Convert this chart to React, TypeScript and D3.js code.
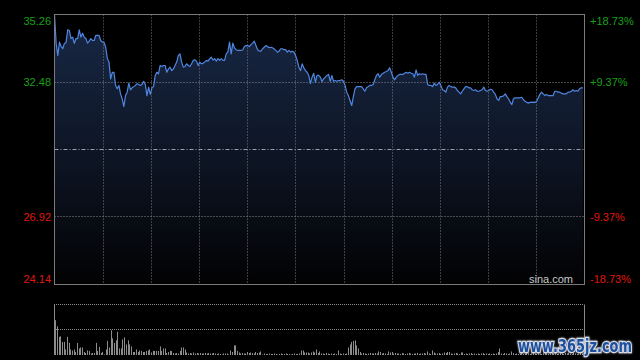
import React from 'react';
import * as d3 from 'd3';

// Reference prices / axis labels
const prevClose = 29.7;
const priceTicks = [35.26, 32.48, 29.7, 26.92, 24.14];
const priceLabels = ['35.26', '32.48', '', '26.92', '24.14'];
const pctLabels = ['+18.73%', '+9.37%', '', '-9.37%', '-18.73%'];
const timeSlots = 322;
const timeDivisions = 11;

// Intraday prices (minute samples)
const pricesOpen = [
  35.26, 34.07, 33.57, 34.12, 33.94, 33.86, 34.07, 34.11, 34.63, 34.6,
  34.27, 34.33, 34.07, 34.27, 34.27, 34.63, 34.33, 34.49, 34.33, 34.27,
  34.08, 34.16, 34.27, 34.19, 34.19, 34.4, 34.4, 34.4, 34.19, 34.12,
  34.12, 33.91, 33.45, 33.3, 32.61, 32.88, 32.88, 32.34, 32.2, 32.34,
  31.99, 31.79, 31.47, 31.92, 32.06, 32.43, 32.16, 32.24, 32.29, 32.34,
  32.41, 32.38, 32.34, 32.38, 32.51, 32.38, 31.92, 32.27, 31.97, 32.24,
  32.29, 32.75, 32.88, 32.82,
];
const pricesMorning = [
  33.16, 33.12, 33.16, 33.16, 32.88, 33.02, 33.09, 32.95, 33.02, 33.16,
  33.3, 33.57, 33.64, 33.3, 33.09, 33.12, 33.23, 33.16, 33.12, 33.23,
  33.37, 33.39, 33.34, 33.16, 33.3, 33.23, 33.25, 33.3, 33.37, 33.34,
  33.44, 33.5, 33.39, 33.44, 33.34, 33.44, 33.37, 33.44, 33.37, 33.37,
  33.64, 33.71, 34.12, 33.64, 34.08, 33.89, 33.81, 33.78, 33.78, 33.78,
  33.81, 33.94, 33.98, 33.98, 33.94, 34.02, 34.08, 34.16, 33.98, 33.81,
  33.75, 33.75, 33.85, 33.91, 33.98, 33.94,
];
const pricesMidday = [
  33.89, 33.91, 33.89, 33.85, 33.78, 33.71, 33.75, 33.85, 33.85, 33.81,
  33.81, 33.71, 33.78, 33.71, 33.75, 33.71, 33.57, 33.37, 33.09, 32.95,
  33.23, 33.07, 32.95, 32.88, 32.75, 32.41, 32.68, 32.84, 32.47, 32.75,
  32.75, 32.68, 32.5, 32.61, 32.68, 32.75, 32.79, 32.51, 32.74, 32.51,
  32.54, 32.51, 32.54, 32.54, 32.57, 32.51, 32.34, 32.06, 31.92, 31.72,
  31.51, 31.88, 32.2, 32.29, 32.29, 32.29, 32.29, 32.2, 32.1, 32.24,
  32.29, 32.34, 32.34, 32.38, 32.57,
];
const pricesAfternoon = [
  32.75, 32.82, 32.68, 32.79, 32.84, 32.88, 32.91, 32.95, 33.07, 32.88,
  32.68, 32.57, 32.68, 32.75, 32.79, 32.79, 32.79, 32.84, 32.88, 32.84,
  32.88, 32.84, 32.82, 32.68, 32.98, 32.75, 32.82, 32.79, 32.82, 32.79,
  32.79, 32.38, 32.34, 32.34, 32.29, 32.43, 32.34, 32.38, 32.47, 32.34,
  32.16, 32.13, 32.06, 32.27, 32.34, 32.29, 32.27, 32.27, 32.24, 32.13,
  32.06, 31.99, 32.1, 32.2, 32.29, 32.29, 32.24, 32.24, 32.16, 32.13,
  32.16, 32.1, 32.1, 32.13,
];
const pricesClose = [
  32.16, 32.27, 32.13, 32.1, 32.13, 32.18, 32.16, 32.06, 31.97, 31.79,
  31.72, 31.88, 31.88, 31.91, 31.99, 31.88, 31.79, 31.65, 31.55, 31.79,
  31.83, 31.83, 31.83, 31.83, 31.85, 31.75, 31.69, 31.65, 31.61, 31.65,
  31.64, 31.65, 31.64, 31.69, 31.83, 31.97, 32.06, 31.99, 31.92, 31.97,
  31.92, 31.92, 31.92, 31.92, 32.1, 32.1, 32.06, 32.06, 32.02, 31.99,
  31.99, 31.99, 32.06, 32.06, 32.1, 32.16, 32.1, 32.13, 32.1, 32.2,
  32.24, 32.24,
];

// Volumes (relative units)
const volumesOpen = [
  100, 69, 57, 36, 37, 26, 26, 11, 36, 24,
  11, 9, 11, 6, 24, 13, 15, 15, 6, 4,
  9, 8, 3, 4, 4, 24, 8, 16, 4, 6,
  1, 11, 28, 15, 49, 33, 24, 29, 46, 13,
  13, 31, 35, 21, 29, 21, 17, 6, 6, 11,
  6, 9, 8, 6, 6, 8, 9, 11, 5, 8,
  8, 8, 8, 17, 8, 13, 13, 4, 6, 8,
  8, 4, 3, 4, 3, 8, 15, 15, 11, 5,
  3, 4, 3, 5, 3, 4, 3, 4, 3, 3,
  4, 3, 4, 3, 3, 4, 3, 2, 3, 2,
  1, 3, 3, 3, 1, 9, 6, 19, 19, 8,
  5, 3, 4, 3, 3, 6, 4, 5, 4, 3,
  6, 4, 5, 7, 1, 3, 2,
];
const volumesMidday = [
  2, 3, 2, 2, 3, 2, 1, 2, 3, 2, 2, 3, 2, 2, 1, 2, 3, 2, 2, 3,
  9, 9, 5, 5, 5, 3, 5, 7, 5, 11, 4, 7, 3,
];
const volumesAfternoon = [
  3, 2, 4, 3, 2, 3, 2, 3, 2, 9, 3, 2, 3, 2, 3,
  15, 21, 26, 28, 29, 19, 13, 6,
  3, 4, 3, 2, 3, 4, 3, 3, 4, 3, 7, 6, 3, 4, 3, 2, 7, 5, 6,
  3, 4, 3, 3, 2, 4, 3, 2, 3, 4, 3, 2, 3, 3, 4, 2, 3, 3, 4, 3,
  7, 3, 2, 9, 5, 3, 3, 4, 2, 3, 5, 4, 6, 6, 3, 2, 3, 4, 3, 2, 5, 5,
];
const volumesClose = [
  2, 3, 2, 3, 4, 2, 3, 2, 3, 2, 3, 4, 2, 3, 2, 3, 2, 3, 2, 3,
  6, 13, 3, 2, 4, 3, 2, 3, 7, 4,
  2, 3, 2, 3, 4, 2, 3, 4, 3, 2, 3, 5, 3, 2, 4, 3, 2, 3, 4, 3,
  2, 3, 5, 3, 4, 2, 3, 4, 3, 2, 4, 3, 5, 3, 2, 4, 3, 2, 3, 4, 3,
];

const FONT = '"Liberation Sans", Arial, Helvetica, sans-serif';
const GREEN = '#18a018';
const RED = '#e0160c';

export default function App() {
  const prices = [...pricesOpen, ...pricesMorning, ...pricesMidday, ...pricesAfternoon, ...pricesClose];
  const volumes = [...volumesOpen, ...volumesMidday, ...volumesAfternoon, ...volumesClose];

  const left = 54.5, right = 584.5, top = 14.5, bottom = 284.5;
  const vTop = 304.5, vBottom = 355;

  const x = d3.scaleLinear().domain([0, timeSlots - 1]).range([left, right]);
  const y = d3.scaleLinear().domain([priceTicks[4], priceTicks[0]]).range([bottom, top]);
  const gx = d3.scaleLinear().domain([0, timeDivisions]).range([left, right]);

  const line = d3.line<number>().x((_, i) => x(i)).y(d => y(d)).curve(d3.curveLinear);
  const area = d3.area<number>().x((_, i) => x(i)).y0(bottom).y1(d => y(d));

  const vMax = d3.max(volumes) as number;
  const yv = d3.scaleLinear().domain([0, vMax]).range([vBottom, vTop]);
  const xv = d3.scaleLinear().domain([0, volumes.length]).range([54, 584]);

  const snap = (v: number) => Math.floor(v) + 0.5;
  const vLines = d3.range(1, timeDivisions).map(k => Math.round(gx(k)) + 0.5);

  return (
    <svg width={640} height={360} style={{ position: 'fixed', left: 0, top: 0, background: '#000' }}>
      <defs>
        <linearGradient id="fillGrad" gradientUnits="userSpaceOnUse" x1="0" y1={top} x2="0" y2={bottom}>
          <stop offset="0" stopColor="#182846" />
          <stop offset="0.5" stopColor="#0e1626" />
          <stop offset="1" stopColor="#020203" />
        </linearGradient>
        <filter id="wmShadow" x="-10%" y="-30%" width="120%" height="160%">
          <feGaussianBlur in="SourceAlpha" stdDeviation="1.2" result="b" />
          <feFlood floodColor="#ffffff" floodOpacity="0.6" />
          <feComposite in2="b" operator="in" result="s" />
          <feMerge>
            <feMergeNode in="s" />
            <feMergeNode in="SourceGraphic" />
          </feMerge>
        </filter>
      </defs>
      <rect x={0} y={0} width={640} height={360} fill="#000" />

      {/* price area */}
      <path d={area(prices) || ''} fill="url(#fillGrad)" />

      {/* grid */}
      {vLines.map((gxv, i) => (
        <line key={'vg' + i} x1={gxv} x2={gxv} y1={top} y2={bottom} stroke="#7a7a7a" strokeDasharray="1,2" />
      ))}
      {priceTicks.slice(1, 4).map((t, i) => {
        const yy = snap(y(t));
        return t === prevClose ? (
          <line key={'hg' + i} x1={left} x2={right} y1={yy} y2={yy} stroke="#9aa0aa" strokeDasharray="4,2,1,2" />
        ) : (
          <line key={'hg' + i} x1={left} x2={right} y1={yy} y2={yy} stroke="#8a8a8a" strokeDasharray="1,2" />
        );
      })}

      {/* price line */}
      <path d={line(prices) || ''} fill="none" stroke="#4f86e0" strokeWidth={1.2} strokeLinejoin="round" />

      {/* frame */}
      <rect x={left} y={top} width={right - left} height={bottom - top} fill="none" stroke="#7a7a7a" strokeWidth={1} />

      {/* labels */}
      {priceTicks.map((t, i) => {
        if (!priceLabels[i]) return null;
        const yy = y(t);
        const baseline = i === 0 ? yy + 10 : i === priceTicks.length - 1 ? yy - 2 : yy + 4;
        const color = t > prevClose ? GREEN : RED;
        return (
          <g key={'lab' + i} fontFamily={FONT} fontSize={11} fill={color}>
            <text x={51} y={baseline} textAnchor="end">{priceLabels[i]}</text>
            <text x={590} y={baseline} textAnchor="start">{pctLabels[i]}</text>
          </g>
        );
      })}
      <text x={573} y={283} textAnchor="end" fontFamily={FONT} fontSize={11} fill="#c8c8c8">sina.com</text>

      {/* volume panel */}
      <line x1={54} x2={584} y1={vTop} y2={vTop} stroke="#8a8a8a" strokeDasharray="1,1" />
      <line x1={54} x2={584} y1={snap(yv(vMax / 2))} y2={snap(yv(vMax / 2))} stroke="#8a8a8a" strokeDasharray="1,1" />
      {volumes.map((v, i) => (
        <rect key={'vb' + i} x={Math.floor(xv(i))} y={yv(v)} width={1} height={vBottom - yv(v)} fill="#8c8c8c" />
      ))}
      <line x1={54.5} x2={54.5} y1={vTop} y2={vBottom} stroke="#8a8a8a" />
      <line x1={584.5} x2={584.5} y1={vTop} y2={vBottom} stroke="#8a8a8a" />

      {/* watermark */}
      <text x={518} y={352} fontFamily={'"DejaVu Sans", sans-serif'} fontWeight="bold" fontSize={17}
        textLength={114} lengthAdjust="spacingAndGlyphs"
        fill="#1d4f9e" stroke="#d8dde8" strokeWidth={2.5} paintOrder="stroke" filter="url(#wmShadow)">
        www.365jz.com
      </text>
    </svg>
  );
}
